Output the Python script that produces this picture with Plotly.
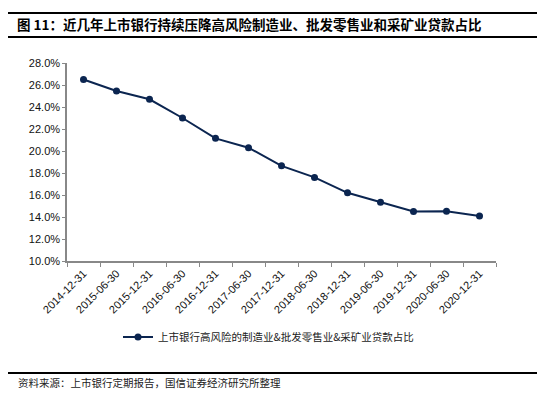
import plotly.graph_objects as go

categories = ["2014-12-31", "2015-06-30", "2015-12-31", "2016-06-30", "2016-12-31",
              "2017-06-30", "2017-12-31", "2018-06-30", "2018-12-31", "2019-06-30",
              "2019-12-31", "2020-06-30", "2020-12-31"]
values = [26.5, 25.45, 24.7, 23.0, 21.15, 20.3, 18.65, 17.6, 16.2, 15.35, 14.5, 14.52, 14.1]
y_ticks = [10, 12, 14, 16, 18, 20, 22, 24, 26, 28]
y_tick_labels = [f"{v:.1f}%" for v in y_ticks]
series_name = "上市银行高风险的制造业&批发零售业&采矿业贷款占比"
title_text = "图 11：近几年上市银行持续压降高风险制造业、批发零售业和采矿业贷款占比"
source_text = "资料来源：上市银行定期报告，国信证券经济研究所整理"

# page body has a default 8px margin; design in screen pixels and offset
OFF = 8
W, H = 545, 395
L, R, T, B = 67 - OFF, 545 - (496 - OFF), 63 - OFF, 395 - (261 - OFF)
pw, ph = W - L - R, H - T - B

def px(x):
    return (x - OFF - L) / pw

def py(y):
    return (H - B - (y - OFF)) / ph

navy = "#0b2550"
cjk = "Noto Sans CJK SC"
latin = "Liberation Sans, Arial"

fig = go.Figure()
fig.add_trace(go.Scatter(
    x=categories, y=values, mode="lines+markers", name=series_name,
    line=dict(color=navy, width=2),
    marker=dict(color=navy, size=7),
))

shapes = []
for yy in (12, 36, 372):
    shapes.append(dict(type="rect", xref="paper", yref="paper", layer="below",
                       x0=px(7), x1=px(553), y0=py(yy), y1=py(yy + 2),
                       fillcolor="black", line=dict(width=0)))

fig.update_layout(
    width=W, height=H,
    margin=dict(l=L, r=R, t=T, b=B, autoexpand=False),
    paper_bgcolor="white", plot_bgcolor="white",
    showlegend=True,
    legend=dict(orientation="h", x=px(118), xanchor="left", y=py(337), yanchor="middle",
                font=dict(family=cjk, size=10.5, color="#222"), itemwidth=30,
                bgcolor="rgba(0,0,0,0)"),
    title=dict(text="<b>" + title_text + "</b>", xref="container", yref="container",
               x=(17 - OFF) / W, xanchor="left", y=1 - (25 - OFF) / H, yanchor="middle",
               font=dict(family=cjk, size=13.5, color="black")),
    shapes=shapes,
    annotations=[dict(text=source_text, xref="paper", yref="paper", x=px(16), y=py(382),
                      xanchor="left", yanchor="middle", showarrow=False,
                      font=dict(family=cjk, size=10.5, color="#222"))],
    xaxis=dict(type="category", showline=True, linecolor="#888", linewidth=1.5,
               ticks="outside", tickson="boundaries", ticklen=4, tickcolor="#888",
               tickangle=-45, tickfont=dict(family=latin, size=11, color="#111"),
               showgrid=False, zeroline=False, range=[-0.5, len(categories) - 0.5],
               automargin=False),
    yaxis=dict(range=[10, 28], tickvals=y_ticks, ticktext=y_tick_labels,
               showline=True, linecolor="#888", linewidth=1.5,
               ticks="outside", ticklen=3, tickcolor="#888",
               tickfont=dict(family=latin, size=11, color="#111"),
               showgrid=False, zeroline=False, automargin=False),
)

fig.write_html("out.html", config={"displayModeBar": False})
